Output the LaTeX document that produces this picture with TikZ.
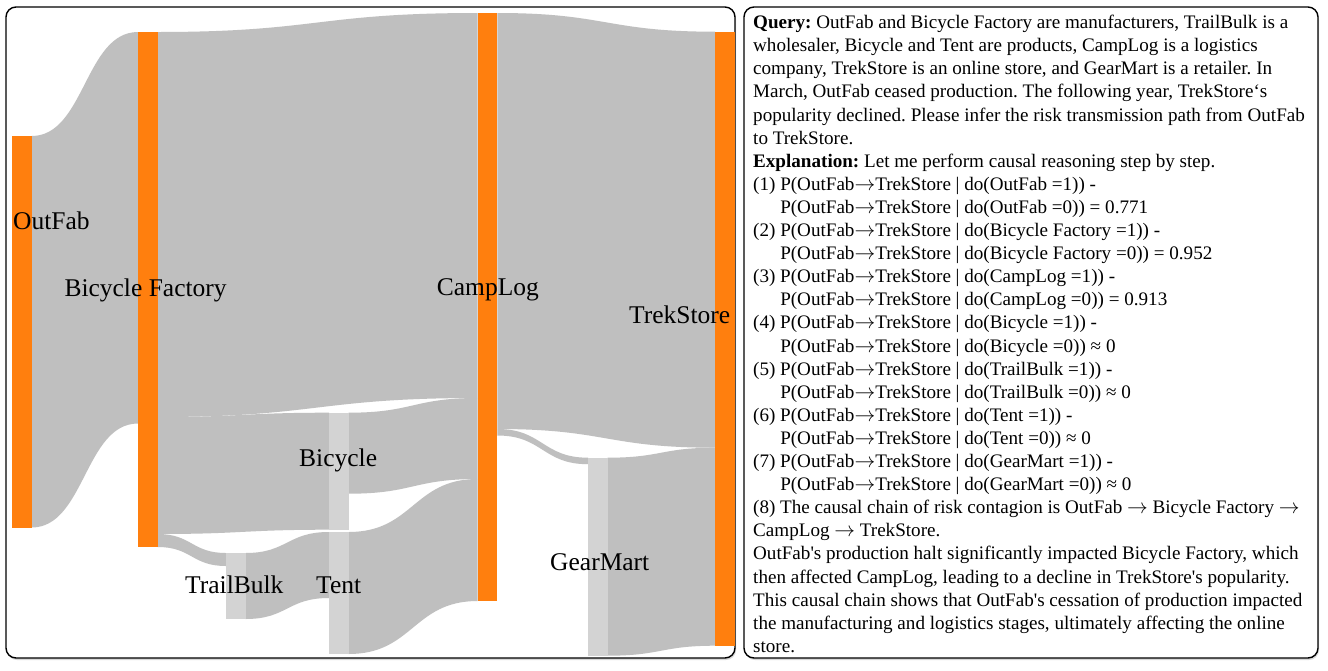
\documentclass[tikz,border=0pt]{standalone}
\usepackage{fontspec}
\setmainfont{Liberation Serif}[Ligatures=TeXOff]
\usetikzlibrary{calc,shadows}
\definecolor{nodeor}{HTML}{FF7F0E}
\definecolor{flowgr}{HTML}{BFBFBF}
\definecolor{nodegr}{HTML}{D3D3D3}
\pgfdeclarelayer{back}
\pgfdeclarelayer{mid}
\pgfsetlayers{back,mid,main}
\newcommand\skflow[5]{%
  \fill[flow] let \p1=($(#1.north east)+(0,#2)$), \p2=($(#3.north west)+(0,#4)$),
    \p3=($(\p1)!0.5!(\p2)$) in
    (\p1) .. controls (\x3,\y1) and (\x3,\y2) .. (\p2)
    -- (\x2,\y2-#5pt) .. controls (\x3,\y2-#5pt) and (\x3,\y1-#5pt) .. (\x1,\y1-#5pt) -- cycle;}
\newcommand\ind{\hphantom{(1)}\ }
\newcommand\arr{$\rightarrow$}
\frenchspacing
\begin{document}
\begin{tikzpicture}[x=1pt,y=-1pt,
  panel/.style={draw=black, line width=1.4pt, rounded corners=10pt, fill=white,
    drop shadow={shadow xshift=1pt, shadow yshift=-2pt, opacity=0.25, fill=black!60}},
  sknode/.style={rectangle, inner sep=0pt, outer sep=0pt, minimum width=19.6pt, anchor=north west},
  hot/.style={sknode, fill=nodeor},
  cold/.style={sknode, fill=nodegr},
  lab/.style={font=\rmfamily\fontsize{25.5}{28}\selectfont, anchor=base west, inner sep=0pt},
  flow/.style={fill=flowgr}]
\useasboundingbox (0,0) rectangle (1328,670);
\begin{pgfonlayer}{back}
\fill[white] (0,0) rectangle (1328,670);
\path[panel] (6,7) rectangle (735,658);
\path[panel] (744,7) rectangle (1318,658);
\end{pgfonlayer}
% sankey nodes
\node[hot, minimum height=391.5pt] (of) at (12,136) {};
\node[hot, minimum height=515pt] (bf) at (138,32) {};
\node[hot, minimum height=588pt] (cl) at (477.7,13) {};
\node[hot, minimum height=614pt, minimum width=19.5pt] (ts) at (715,31.7) {};
\node[cold, minimum height=117.3pt] (bi) at (329,412.7) {};
\node[cold, minimum height=122pt] (te) at (329,532) {};
\node[cold, minimum height=66pt] (tb) at (226,553) {};
\node[cold, minimum height=198pt] (gm) at (588,457.7) {};
% flows
\begin{pgfonlayer}{mid}
\skflow{of}{0}{bf}{0}{391.5}
\skflow{bf}{0}{cl}{0}{385}
\skflow{bf}{385}{bi}{0}{117}
\skflow{bf}{502}{tb}{0}{13}
\skflow{tb}{0}{te}{0}{66}
\skflow{bi}{0}{cl}{385}{81}
\skflow{te}{0}{cl}{466}{122}
\skflow{cl}{0}{ts}{0}{416}
\skflow{cl}{416}{gm}{0}{6.5}
\skflow{gm}{0}{ts}{416}{198}
\end{pgfonlayer}
% labels
\node[lab] (lof) at (13,229.5) {OutFab};
\node[lab] (lbf) at (64.3,296) {Bicycle Factory};
\node[lab] (lcl) at (436.7,295) {CampLog};
\node[lab] (lts) at (629,323) {TrekStore};
\node[lab] (lbi) at (299,466.7) {Bicycle};
\node[lab] (ltb) at (185,593) {TrailBulk};
\node[lab] (lte) at (316,593) {Tent};
\node[lab] (lgm) at (550,570) {GearMart};
% explanation text
\node[anchor=north west, inner sep=0pt, align=left, font=\rmfamily\fontsize{19.1}{23.1}\selectfont] (txt) at (753,15) {%
\textbf{Query:} OutFab and Bicycle Factory are manufacturers, TrailBulk is a\\
wholesaler, Bicycle and Tent are products, CampLog is a logistics\\
company, TrekStore is an online store, and GearMart is a retailer. In\\
March, OutFab ceased production. The following year, TrekStore‘s\\
popularity declined. Please infer the risk transmission path from OutFab\\
to TrekStore.\\
\textbf{Explanation:} Let me perform causal reasoning step by step.\\
(1) P(OutFab\arr TrekStore | do(OutFab =1)) -\\
\ind P(OutFab\arr TrekStore | do(OutFab =0)) = 0.771\\
(2) P(OutFab\arr TrekStore | do(Bicycle Factory =1)) -\\
\ind P(OutFab\arr TrekStore | do(Bicycle Factory =0)) = 0.952\\
(3) P(OutFab\arr TrekStore | do(CampLog =1)) -\\
\ind P(OutFab\arr TrekStore | do(CampLog =0)) = 0.913\\
(4) P(OutFab\arr TrekStore | do(Bicycle =1)) -\\
\ind P(OutFab\arr TrekStore | do(Bicycle =0)) ≈ 0\\
(5) P(OutFab\arr TrekStore | do(TrailBulk =1)) -\\
\ind P(OutFab\arr TrekStore | do(TrailBulk =0)) ≈ 0\\
(6) P(OutFab\arr TrekStore | do(Tent =1)) -\\
\ind P(OutFab\arr TrekStore | do(Tent =0)) ≈ 0\\
(7) P(OutFab\arr TrekStore | do(GearMart =1)) -\\
\ind P(OutFab\arr TrekStore | do(GearMart =0)) ≈ 0\\
(8) The causal chain of risk contagion is OutFab \arr{} Bicycle Factory \arr\\
CampLog \arr{} TrekStore.\\
OutFab's production halt significantly impacted Bicycle Factory, which\\
then affected CampLog, leading to a decline in TrekStore's popularity.\\
This causal chain shows that OutFab's cessation of production impacted\\
the manufacturing and logistics stages, ultimately affecting the online\\
store.};
\end{tikzpicture}
\end{document}
